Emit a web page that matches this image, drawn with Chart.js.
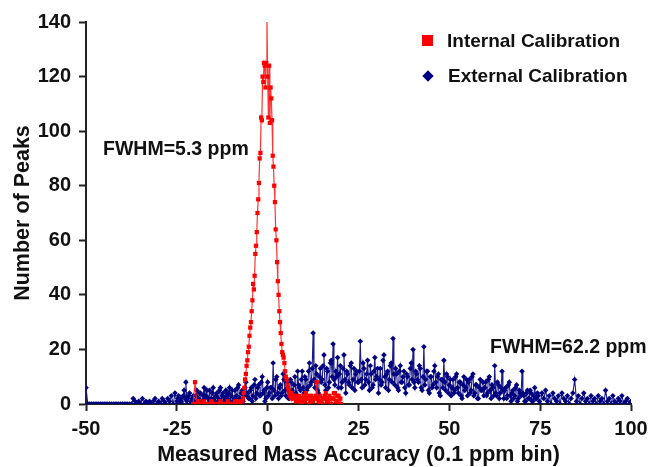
<!DOCTYPE html>
<html>
<head>
<meta charset="utf-8">
<script src="https://cdn.jsdelivr.net/npm/chart.js@4.4.1/dist/chart.umd.min.js"></script>
<style>
  html, body { margin: 0; padding: 0; background: #fff; }
  #wrap { position: relative; width: 654px; height: 467px; overflow: hidden; }
  canvas { position: absolute; left: 0; top: 0; }
  .lbl { position: absolute; font-family: "Liberation Sans", Arial, sans-serif; font-weight: bold; color: #111; line-height: 1; white-space: nowrap; }
  .sq { position: absolute; width: 11px; height: 11px; background: #ff0000; }
  .dm { position: absolute; width: 8px; height: 8px; background: #000080; transform: rotate(45deg); }
</style>
</head>
<body>
<div id="wrap">
  <canvas id="c" width="654" height="467" style="width:654px;height:467px"></canvas>
  <div class="sq" style="left:422px;top:35px;"></div>
  <div class="lbl" style="left:447px;top:31px;font-size:19px;">Internal Calibration</div>
  <div class="dm" style="left:424px;top:72px;"></div>
  <div class="lbl" style="left:448px;top:66px;font-size:19px;">External Calibration</div>
  <div class="lbl" style="left:103px;top:138.5px;font-size:19.5px;">FWHM=5.3 ppm</div>
  <div class="lbl" style="left:490px;top:337px;font-size:19.5px;">FWHM=62.2 ppm</div>
</div>
<script>
// ---- Data (counts per bin) ----
const xTicks = [-50, -25, 0, 25, 50, 75, 100];
const yTicks = [0, 20, 40, 60, 80, 100, 120, 140];

// External calibration
// part A: -50 .. -25.5 ppm, step 0.5 (10 values per row = 5 ppm)
const externalAStart = -50, externalAStep = 0.5;
const externalACounts = [
  6,0,0,0,0,0,0,0,0,0,        // -50
  0,0,0,0,0,0,0,0,0,0,        // -45
  0,0,0,0,0,0,2,1,0,1,        // -40
  0,2,0,1,0,1,0,1,2,0,        // -35
  1,0,2,1,0,2,1,3,0,4         // -30
];
// part B: -25 .. 74.75 ppm, step 0.25 (20 values per row = 5 ppm)
const externalBStart = -25, externalBStep = 0.25;
const externalBCounts = [
  1,2,3,0,2,1,0,3,5,2,8,1,2,3,4,0,1,2,3,1,          // -25
  0,3,5,1,2,4,4,0,1,3,6,2,3,5,0,2,5,1,2,4,          // -20
  6,2,1,3,4,0,2,5,6,1,3,4,1,2,5,3,2,4,6,1,          // -15
  3,5,1,2,5,0,3,6,7,2,2,4,5,1,3,6,8,3,4,2,          // -10
  2,5,6,1,3,7,9,2,4,6,7,3,3,8,10,4,5,1,2,6,         // -5
  8,3,4,6,6,2,15,5,3,9,10,4,2,6,7,3,4,11,9,5,       // 0
  3,8,6,2,2,9,8,5,4,7,10,4,3,12,7,6,5,9,12,6,       // 5
  4,10,9,5,6,12,15,7,8,13,26,9,6,14,11,5,4,10,13,8, // 10
  9,14,18,7,5,13,12,6,8,15,16,10,22,9,7,12,10,17,6,11, // 15
  14,6,8,13,18,9,4,12,11,8,7,14,15,6,9,13,5,11,12,8,   // 20
  8,12,23,9,6,15,13,7,9,11,16,8,5,14,11,6,7,12,17,9,   // 25
  10,13,4,9,13,7,8,16,18,10,6,11,12,5,9,14,15,8,24,11, // 30
  7,13,11,6,5,12,14,8,8,10,12,6,4,11,10,7,7,13,15,9,   // 35
  20,8,6,12,11,9,8,14,13,6,5,10,21,7,9,12,12,5,4,10,   // 40
  10,6,7,12,14,8,6,10,11,4,3,9,9,6,16,8,5,11,10,4,     // 45
  7,9,3,6,9,4,5,10,11,6,4,8,8,3,2,7,10,5,6,9,          // 50
  3,8,9,4,5,10,11,3,4,7,7,2,2,6,9,5,5,8,3,6,           // 55
  8,3,4,9,10,5,2,7,6,3,14,4,3,8,7,2,4,6,12,5,          // 60
  2,5,6,2,3,7,8,3,1,4,5,2,3,6,7,1,2,5,4,3,             // 65
  12,4,3,1,1,4,5,2,2,5,4,1,1,3,6,2,2,4,3,1             // 70
];
// part C: 75 .. 100 ppm, step 0.5
const externalCStart = 75, externalCStep = 0.5;
const externalCCounts = [
  0,4,2,5,1,3,0,4,2,1,        // 75
  3,0,4,2,1,3,0,2,4,9,        // 80
  1,3,0,2,4,1,2,0,3,1,        // 85
  2,0,3,1,2,0,5,1,2,0,        // 90
  3,1,0,2,1,3,0,1,2,0,        // 95
  1                           // 100
];

// Internal calibration, three stretches
const internalLowStart = -20.5, internalLowStep = 0.5;
const internalLowCounts = [0,8,0,1,0,0,1,0,0,0,1,0,0,0,0,1,0,0,0,1,0,0,0,1,0,1,0];

const internalPeakStart = -7.0, internalPeakStep = 0.2;
const internalPeakCounts = [
  1,2,4,6,9,          // -7
  11,14,16,19,21,     // -6
  25,28,30,34,38,     // -5
  44,42,47,55,58,     // -4
  63,70,75,81,90,     // -3
  92,105,104,120,118, // -2
  125,124,116,125,141,// -1
  120,105,124,103,116,// 0
  112,104,91,87,80,   // 1
  74,64,60,52,45,     // 2
  40,34,30,26,22,     // 3
  19,18,17,15,12,     // 4
  10,9,7,6,5,         // 5
  4,3,2               // 6
];

// 6.5 .. 20.25 ppm, step 0.25
const internalTailStart = 6.5, internalTailStep = 0.25;
const internalTailCounts = [
  4,3,2,3,3,1,2,2,1,3,2,0,1,2,3,1,   // 6.5
  4,2,2,3,0,1,3,2,1,2,2,3,8,2,1,0,   // 10.5
  3,1,0,2,2,3,4,1,1,2,3,0,0,2,2,4,   // 14.5
  4,1,1,3,3,0,2,0                    // 18.5
];

// ---- Build points ----
function bins(start, step, counts) {
  return counts.map((v, i) => ({ x: +(start + i * step).toFixed(2), y: v }));
}
const externalPts = [
  ...bins(externalAStart, externalAStep, externalACounts),
  ...bins(externalBStart, externalBStep, externalBCounts),
  ...bins(externalCStart, externalCStep, externalCCounts)
];
const internalPts = [
  ...bins(internalLowStart, internalLowStep, internalLowCounts),
  ...bins(internalPeakStart, internalPeakStep, internalPeakCounts),
  ...bins(internalTailStart, internalTailStep, internalTailCounts)
];

const FONT = "'Liberation Sans', Arial, sans-serif";
const axisColor = '#222';

new Chart(document.getElementById('c'), {
  type: 'line',
  data: {
    datasets: [
      {
        label: 'Internal Calibration',
        data: internalPts,
        borderColor: 'rgba(255,30,30,0.9)',
        borderWidth: 1.2,
        pointStyle: 'rect',
        pointRadius: 3,
        pointBackgroundColor: '#ff0000',
        pointBorderColor: '#ff0000',
        pointBorderWidth: 0,
        tension: 0
      },
      {
        label: 'External Calibration',
        data: externalPts,
        borderColor: 'rgba(16,16,130,0.95)',
        borderWidth: 1.1,
        pointStyle: 'rectRot',
        pointRadius: 2.8,
        pointBackgroundColor: '#000080',
        pointBorderColor: '#000080',
        pointBorderWidth: 0,
        tension: 0
      }
    ]
  },
  options: {
    responsive: false,
    animation: false,
    devicePixelRatio: 1,
    parsing: false,
    layout: { padding: { left: 0, right: 23, top: 22, bottom: 0 } },
    plugins: { legend: { display: false }, tooltip: { enabled: false } },
    scales: {
      x: {
        type: 'linear', min: -50, max: 100,
        afterBuildTicks: s => { s.ticks = xTicks.map(v => ({ value: v })); },
        afterFit: s => { s.height = 63; },
        ticks: { color: '#111', font: { family: FONT, size: 20, weight: 'bold' }, padding: 6, maxRotation: 0 },
        grid: { drawOnChartArea: false, drawTicks: true, tickLength: 7, tickColor: axisColor, tickWidth: 2 },
        border: { display: true, color: axisColor, width: 2 },
        title: { display: true, text: 'Measured Mass Accuracy (0.1 ppm bin)', color: '#111',
                 font: { family: FONT, size: 21.5, weight: 'bold', lineHeight: 1.0 }, padding: { top: 0, bottom: 1 } }
      },
      y: {
        type: 'linear', min: 0, max: 140,
        afterBuildTicks: s => { s.ticks = yTicks.map(v => ({ value: v })); },
        afterFit: s => { s.width = 86; },
        ticks: { color: '#111', font: { family: FONT, size: 20, weight: 'bold' }, padding: 8 },
        grid: { drawOnChartArea: false, drawTicks: true, tickLength: 7, tickColor: axisColor, tickWidth: 2 },
        border: { display: true, color: axisColor, width: 2 },
        title: { display: true, text: 'Number of Peaks', color: '#111',
                 font: { family: FONT, size: 21.5, weight: 'bold', lineHeight: 1.0 }, padding: { top: 12, bottom: 0 } }
      }
    }
  }
});
</script>
</body>
</html>
